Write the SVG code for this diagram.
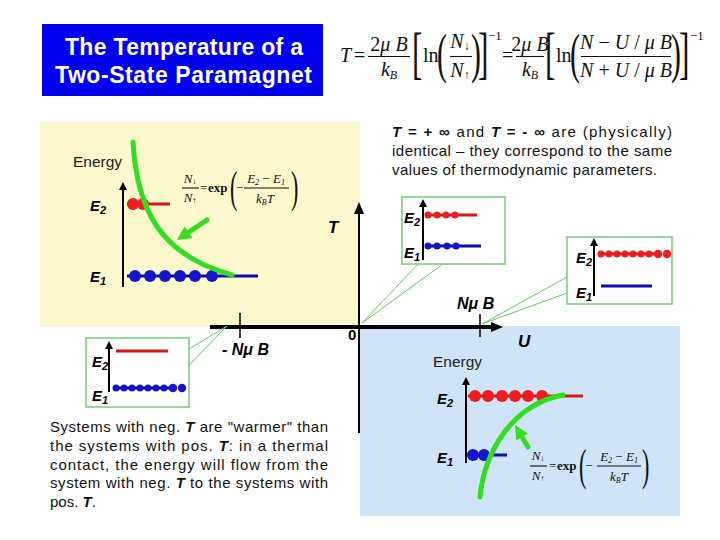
<svg xmlns="http://www.w3.org/2000/svg" width="720" height="540" viewBox="0 0 720 540">
<style>
.sans{font-family:"Liberation Sans",Arial,sans-serif}
.serif{font-family:"Liberation Serif","Times New Roman",serif;fill:#111}
.E{font-family:"Liberation Sans",Arial,sans-serif;font-weight:bold;font-style:italic;font-size:15px;fill:#000}
.sub{font-size:11px}
.bi{font-family:"Liberation Sans",Arial,sans-serif;font-weight:bold;font-style:italic;fill:#000}
.green{fill:none;stroke:#33dd22;stroke-width:5;stroke-linecap:round}
.call{stroke:#66cc66;stroke-width:1;fill:none}
.box{fill:#fff;stroke:#77cc77;stroke-width:1.5}
.rl{stroke:#d81818;stroke-width:3}
.bl{stroke:#0c0cb0;stroke-width:3}
.rd{fill:#ee1c1c}
.bd{fill:#1414cc}
.ax{stroke:#000;stroke-width:4}
.sax{stroke:#000;stroke-width:2}
.tick{stroke:#000;stroke-width:1.5}
.note{font-family:"Liberation Sans",Arial,sans-serif;font-size:15px;fill:#111}
.bar{stroke:#111;stroke-width:1.1}
</style>
<defs>
<marker id="axh" markerUnits="userSpaceOnUse" markerWidth="12" markerHeight="10" refX="2" refY="5" orient="auto"><path d="M0,0L12,5L0,10z" fill="#000"/></marker>
<marker id="sh" markerUnits="userSpaceOnUse" markerWidth="8" markerHeight="8" refX="1" refY="4" orient="auto"><path d="M0,0L8,4L0,8z" fill="#000"/></marker>
<marker id="gh" markerUnits="userSpaceOnUse" markerWidth="14" markerHeight="14" refX="3" refY="7" orient="auto"><path d="M0,0L14,7L0,14z" fill="#33dd22"/></marker>
</defs>

<rect width="720" height="540" fill="#fff"/>

<g id="title">
<rect x="42" y="24" width="281" height="72" fill="#0000ee"/>
<text class="sans" font-size="23" font-weight="bold" fill="#fff" x="65" y="55" textLength="238" lengthAdjust="spacing">The Temperature of a</text>
<text class="sans" font-size="23" font-weight="bold" fill="#fff" x="55" y="83" textLength="257" lengthAdjust="spacing">Two-State Paramagnet</text>
</g>

<g id="formula" class="serif" font-size="20">
<text x="340" y="62" font-style="italic">T</text>
<text x="354" y="62">=</text>
<text x="389" y="51" text-anchor="middle">2<tspan font-style="italic">μ B</tspan></text>
<line class="bar" x1="368" y1="56.5" x2="410" y2="56.5"/>
<text x="389" y="76" text-anchor="middle" font-style="italic">k<tspan font-size="12" dy="3">B</tspan></text>
<text transform="translate(412,72) scale(0.55,1)" font-size="57">[</text>
<text x="423" y="62">ln</text>
<text transform="translate(437,72) scale(0.55,1)" font-size="54">(</text>
<text x="460" y="48" text-anchor="middle" font-style="italic">N<tspan font-size="12" font-style="normal" dy="2">↓</tspan></text>
<line class="bar" x1="450" y1="56.5" x2="472" y2="56.5"/>
<text x="460" y="77" text-anchor="middle" font-style="italic">N<tspan font-size="12" font-style="normal" dy="2">↑</tspan></text>
<text transform="translate(471,72) scale(0.55,1)" font-size="54">)</text>
<text transform="translate(478,72) scale(0.55,1)" font-size="57">]</text>
<text x="488" y="40" font-size="13">−1</text>
<text x="502" y="62">=</text>
<text x="530" y="51" text-anchor="middle">2<tspan font-style="italic">μ B</tspan></text>
<line class="bar" x1="516" y1="56.5" x2="544" y2="56.5"/>
<text x="530" y="76" text-anchor="middle" font-style="italic">k<tspan font-size="12" dy="3">B</tspan></text>
<text transform="translate(545,72) scale(0.55,1)" font-size="57">[</text>
<text x="556" y="62">ln</text>
<text transform="translate(570,72) scale(0.55,1)" font-size="54">(</text>
<text x="626" y="49" text-anchor="middle"><tspan font-style="italic">N</tspan> − <tspan font-style="italic">U</tspan> / <tspan font-style="italic">μ B</tspan></text>
<line class="bar" x1="581" y1="56.5" x2="671" y2="56.5"/>
<text x="626" y="77" text-anchor="middle"><tspan font-style="italic">N</tspan> + <tspan font-style="italic">U</tspan> / <tspan font-style="italic">μ B</tspan></text>
<text transform="translate(671,72) scale(0.55,1)" font-size="54">)</text>
<text transform="translate(679,72) scale(0.55,1)" font-size="57">]</text>
<text x="690" y="40" font-size="13">−1</text>
</g>

<g id="panel-positive">
<rect x="40" y="122" width="320" height="205" fill="#fbf9cc"/>
<text class="sans" font-size="15.5" fill="#222" x="73" y="167">Energy</text>
<line class="sax" x1="123" y1="287" x2="123" y2="189" marker-end="url(#sh)"/>
<text class="E" x="90" y="211">E<tspan class="sub" dy="3">2</tspan></text>
<text class="E" x="90" y="282">E<tspan class="sub" dy="3">1</tspan></text>
<line class="rl" x1="127" y1="204" x2="170" y2="204"/>
<circle class="rd" cx="133" cy="204" r="6"/>
<circle class="rd" cx="143" cy="204" r="6"/>
<line class="bl" x1="127" y1="276" x2="258" y2="276"/>
<circle class="bd" cx="135" cy="276" r="6"/>
<circle class="bd" cx="150" cy="276" r="6"/>
<circle class="bd" cx="165" cy="276" r="6"/>
<circle class="bd" cx="180" cy="276" r="6"/>
<circle class="bd" cx="195" cy="276" r="6"/>
<circle class="bd" cx="212" cy="276" r="6"/>
<path class="green" d="M133,142 C137,210 160,255 232,275"/>
<line class="green" x1="207" y1="220" x2="186" y2="234" stroke-linecap="butt" marker-end="url(#gh)"/>
<g class="serif" font-size="13" fill="#333">
<text x="190" y="183" text-anchor="middle" font-style="italic">N<tspan font-size="8" font-style="normal" dy="1">↓</tspan></text>
<line class="bar" x1="182" y1="188" x2="199" y2="188" stroke-width="0.8"/>
<text x="190" y="202" text-anchor="middle" font-style="italic">N<tspan font-size="8" font-style="normal" dy="1">↑</tspan></text>
<text x="200" y="192">=</text>
<text x="208" y="192" font-weight="bold">exp</text>
<text transform="translate(230,202) scale(0.5,1)" font-size="44">(</text>
<text x="236" y="192">−</text>
<text x="266" y="183" text-anchor="middle" font-style="italic">E<tspan font-size="8" dy="2">2</tspan><tspan dy="-2" font-style="normal"> − </tspan>E<tspan font-size="8" dy="2">1</tspan></text>
<line class="bar" x1="244" y1="188" x2="289" y2="188" stroke-width="0.8"/>
<text x="265" y="203" text-anchor="middle" font-style="italic">k<tspan font-size="8" dy="2">B</tspan><tspan dy="-2">T</tspan></text>
<text transform="translate(291,202) scale(0.5,1)" font-size="44">)</text>
</g>
</g>

<g id="panel-negative">
<rect x="360" y="326" width="320" height="190" fill="#cfe4f7"/>
<text class="sans" font-size="15.5" fill="#222" x="433" y="367">Energy</text>
<line class="sax" x1="466" y1="463" x2="466" y2="384" marker-end="url(#sh)"/>
<text class="E" x="437" y="404">E<tspan class="sub" dy="3">2</tspan></text>
<text class="E" x="437" y="463">E<tspan class="sub" dy="3">1</tspan></text>
<line class="rl" x1="468" y1="396" x2="583" y2="396"/>
<circle class="rd" cx="475" cy="396" r="6"/>
<circle class="rd" cx="488" cy="396" r="6"/>
<circle class="rd" cx="502" cy="396" r="6"/>
<circle class="rd" cx="515" cy="396" r="6"/>
<circle class="rd" cx="528" cy="396" r="6"/>
<circle class="rd" cx="542" cy="396" r="6"/>
<line class="bl" x1="468" y1="455" x2="507" y2="455"/>
<circle class="bd" cx="473" cy="455" r="6"/>
<circle class="bd" cx="484" cy="455" r="6"/>
<path class="green" d="M480,497 C484,455 510,405 563,395"/>
<line class="green" x1="528" y1="447" x2="520.6" y2="434.5" stroke-linecap="butt" marker-end="url(#gh)"/>
<g class="serif" font-size="13" fill="#333">
<text x="538" y="460" text-anchor="middle" font-style="italic">N<tspan font-size="8" font-style="normal" dy="1">↓</tspan></text>
<line class="bar" x1="530" y1="466" x2="547" y2="466" stroke-width="0.8"/>
<text x="538" y="480" text-anchor="middle" font-style="italic">N<tspan font-size="8" font-style="normal" dy="1">↑</tspan></text>
<text x="549" y="470">=</text>
<text x="557" y="470" font-weight="bold">exp</text>
<text transform="translate(579,480) scale(0.5,1)" font-size="44">(</text>
<text x="585" y="470">−</text>
<text x="619" y="461" text-anchor="middle" font-style="italic">E<tspan font-size="8" dy="2">2</tspan><tspan dy="-2" font-style="normal"> − </tspan>E<tspan font-size="8" dy="2">1</tspan></text>
<line class="bar" x1="597" y1="466" x2="641" y2="466" stroke-width="0.8"/>
<text x="619" y="481" text-anchor="middle" font-style="italic">k<tspan font-size="8" dy="2">B</tspan><tspan dy="-2">T</tspan></text>
<text transform="translate(642,480) scale(0.5,1)" font-size="44">)</text>
</g>
</g>

<g id="axes">
<line class="ax" x1="210" y1="327" x2="493" y2="327" marker-end="url(#axh)"/>
<line class="sax" x1="359" y1="433" x2="359" y2="212" stroke-width="3" marker-end="url(#axh)"/>
<line class="tick" x1="240" y1="313" x2="240" y2="338"/>
<line class="tick" x1="480" y1="314" x2="480" y2="337"/>
<text class="bi" font-size="17" x="328" y="233">T</text>
<text class="bi" font-size="17" x="518" y="347">U</text>
<text class="sans" font-weight="bold" font-size="15" x="348" y="340">0</text>
<text class="bi" font-size="16" x="222" y="355">- Nμ B</text>
<text class="bi" font-size="16" x="457" y="309">Nμ B</text>
</g>

<g id="connectors">
<line class="call" x1="418" y1="264" x2="362" y2="323"/>
<line class="call" x1="443" y1="264" x2="362" y2="323"/>
<line class="call" x1="567" y1="277" x2="482" y2="324"/>
<line class="call" x1="567" y1="293" x2="482" y2="324"/>
<line class="call" x1="189" y1="349" x2="227" y2="326"/>
<line class="call" x1="189" y1="365" x2="227" y2="326"/>
</g>

<g id="box-zero-left">
<rect class="box" x="402" y="197" width="103" height="67"/>
<line class="sax" x1="423" y1="260" x2="423" y2="206" marker-end="url(#sh)"/>
<text class="E" x="404" y="223">E<tspan class="sub" dy="3">2</tspan></text>
<text class="E" x="404" y="258">E<tspan class="sub" dy="3">1</tspan></text>
<line class="rl" x1="426" y1="215" x2="477" y2="215"/>
<circle class="rd" cx="428" cy="215" r="3.5"/>
<circle class="rd" cx="437" cy="215" r="3.5"/>
<circle class="rd" cx="446" cy="215" r="3.5"/>
<circle class="rd" cx="455" cy="215" r="3.5"/>
<line class="bl" x1="426" y1="246" x2="481" y2="246"/>
<circle class="bd" cx="428" cy="246" r="3.5"/>
<circle class="bd" cx="437" cy="246" r="3.5"/>
<circle class="bd" cx="447" cy="246" r="3.5"/>
<circle class="bd" cx="456" cy="246" r="3.5"/>
</g>

<g id="box-max">
<rect class="box" x="567" y="237" width="105" height="67"/>
<line class="sax" x1="594" y1="296" x2="594" y2="245" stroke-width="1.5" marker-end="url(#sh)"/>
<text class="E" x="576" y="263">E<tspan class="sub" dy="3">2</tspan></text>
<text class="E" x="576" y="298">E<tspan class="sub" dy="3">1</tspan></text>
<line class="rl" x1="599" y1="254" x2="660" y2="254"/>
<circle class="rd" cx="601" cy="254" r="3.5"/>
<circle class="rd" cx="609" cy="254" r="3.5"/>
<circle class="rd" cx="617" cy="254" r="3.5"/>
<circle class="rd" cx="625" cy="254" r="3.5"/>
<circle class="rd" cx="633" cy="254" r="3.5"/>
<circle class="rd" cx="641" cy="254" r="3.5"/>
<circle class="rd" cx="649" cy="254" r="3.5"/>
<circle class="rd" cx="658" cy="254" r="4.2"/>
<circle class="rd" cx="667" cy="254" r="4.2"/>
<line class="bl" x1="601" y1="286" x2="652" y2="286"/>
</g>

<g id="box-min">
<rect class="box" x="86" y="338" width="103" height="69"/>
<line class="sax" x1="109" y1="392" x2="109" y2="348" marker-end="url(#sh)"/>
<text class="E" x="92" y="367">E<tspan class="sub" dy="3">2</tspan></text>
<text class="E" x="92" y="401">E<tspan class="sub" dy="3">1</tspan></text>
<line class="rl" x1="116" y1="351" x2="168" y2="351" stroke="#cc1111"/>
<line class="bl" x1="113" y1="388" x2="170" y2="388"/>
<circle class="bd" cx="116" cy="388" r="3.5"/>
<circle class="bd" cx="124" cy="388" r="3.5"/>
<circle class="bd" cx="132" cy="388" r="3.5"/>
<circle class="bd" cx="140" cy="388" r="3.5"/>
<circle class="bd" cx="148" cy="388" r="3.5"/>
<circle class="bd" cx="156" cy="388" r="3.5"/>
<circle class="bd" cx="164" cy="388" r="3.5"/>
<circle class="bd" cx="173" cy="388" r="4.2"/>
<circle class="bd" cx="182" cy="388" r="4.2"/>
</g>

<g id="note-infinity" class="note">
<text x="392" y="137" textLength="280" lengthAdjust="spacing"><tspan font-weight="bold" font-style="italic">T</tspan><tspan font-weight="bold"> = + ∞</tspan> and <tspan font-weight="bold" font-style="italic">T</tspan><tspan font-weight="bold"> = - ∞</tspan> are (physically)</text>
<text x="392" y="156" textLength="280" lengthAdjust="spacing">identical – they correspond to the same</text>
<text x="392" y="175" textLength="265" lengthAdjust="spacing">values of thermodynamic parameters.</text>
</g>

<g id="note-warmer" class="note">
<text x="50" y="432" textLength="278" lengthAdjust="spacing">Systems with neg. <tspan font-weight="bold" font-style="italic">T</tspan> are "warmer" than</text>
<text x="50" y="451" textLength="278" lengthAdjust="spacing">the systems with pos. <tspan font-weight="bold" font-style="italic">T</tspan>: in a thermal</text>
<text x="50" y="470" textLength="278" lengthAdjust="spacing">contact, the energy will flow from the</text>
<text x="50" y="488" textLength="278" lengthAdjust="spacing">system with neg. <tspan font-weight="bold" font-style="italic">T</tspan>  to the systems with</text>
<text x="50" y="507">pos. <tspan font-weight="bold" font-style="italic">T</tspan>.</text>
</g>
</svg>
